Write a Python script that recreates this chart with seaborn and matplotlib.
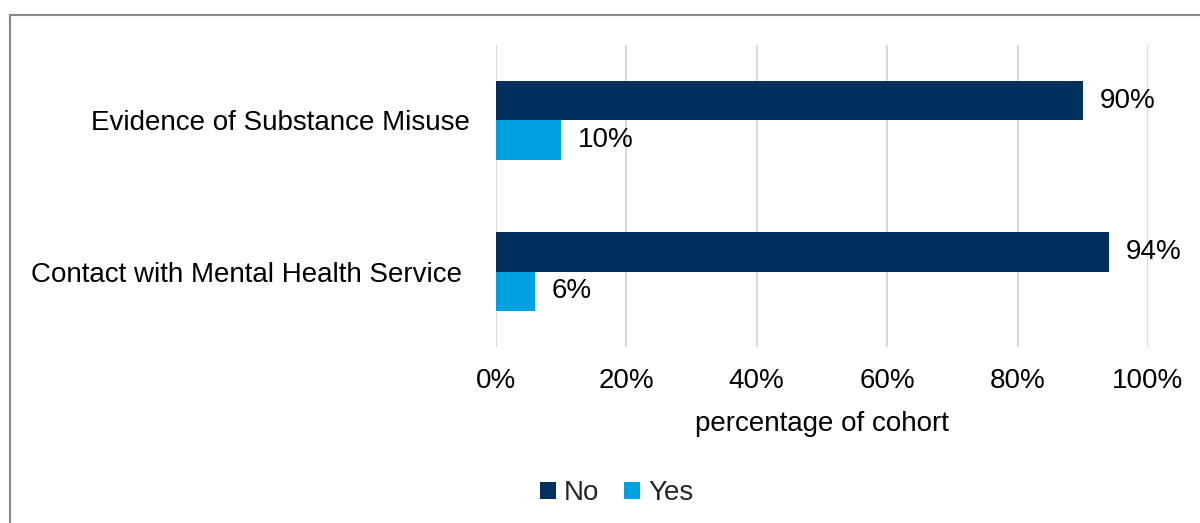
import matplotlib
matplotlib.use("Agg")
import matplotlib.pyplot as plt
from matplotlib.patches import Patch, Rectangle
import seaborn as sns
import pandas as pd

categories = ["Evidence of Substance Misuse", "Contact with Mental Health Service "]
series_names = ["No", "Yes"]
no_values = [90, 94]
yes_values = [10, 6]
x_ticks = [0, 20, 40, 60, 80, 100]
x_tick_labels = ["0%", "20%", "40%", "60%", "80%", "100%"]
x_title = "percentage of cohort"

colors = {"No": "#00305E", "Yes": "#00A1E0"}

df = pd.DataFrame({
    "category": categories * 2,
    "response": [series_names[0]] * len(categories) + [series_names[1]] * len(categories),
    "value": no_values + yes_values,
})

sns.set_theme(style="white")
plt.rcParams["font.family"] = ["Liberation Sans", "DejaVu Sans"]

FS = 20

fig = plt.figure(figsize=(12, 5.23), dpi=100)
ax = fig.add_axes([0.4133, 0.3365, 0.5433, 0.5775])

sns.barplot(data=df, y="category", x="value", hue="response",
            hue_order=series_names, order=categories, palette=colors,
            orient="h", width=0.52, saturation=1, ax=ax, legend=False,
            edgecolor="none", linewidth=0)

for container in ax.containers:
    vals = [p.get_width() for p in container]
    ax.bar_label(container, labels=[f"{v:g}%" for v in vals],
                 padding=12, fontsize=FS, color="#000000")

ax.set_xlim(0, 100)
ax.set_ylim(1.5, -0.5)
ax.set_xticks(x_ticks)
ax.set_xticklabels(x_tick_labels)
ax.tick_params(axis="x", length=0, pad=15, labelsize=FS, colors="#000000")
ax.tick_params(axis="y", length=0, pad=19, labelsize=FS, colors="#000000")
ax.set_ylabel("")
ax.set_xlabel(x_title, fontsize=FS, color="#000000", labelpad=12)
ax.grid(axis="x", color="#D9D9D9", linewidth=1.5)
ax.set_axisbelow(True)
for s in ax.spines.values():
    s.set_visible(False)

handles = [Patch(facecolor=colors[n], edgecolor="none", label=n) for n in series_names]
fig.legend(handles=handles, loc="center", bbox_to_anchor=(0.514, 0.057),
           ncol=2, frameon=False, fontsize=FS, handlelength=0.55,
           handleheight=0.55, handletextpad=0.3, columnspacing=0.9)

# outer chart border
fig.patches.append(Rectangle((10 / 1200, -0.05), 1.2, 1 - 15.5 / 523 + 0.05,
                             transform=fig.transFigure, fill=False,
                             edgecolor="#898989", linewidth=1.5))

fig.savefig("out.png", dpi=100)
